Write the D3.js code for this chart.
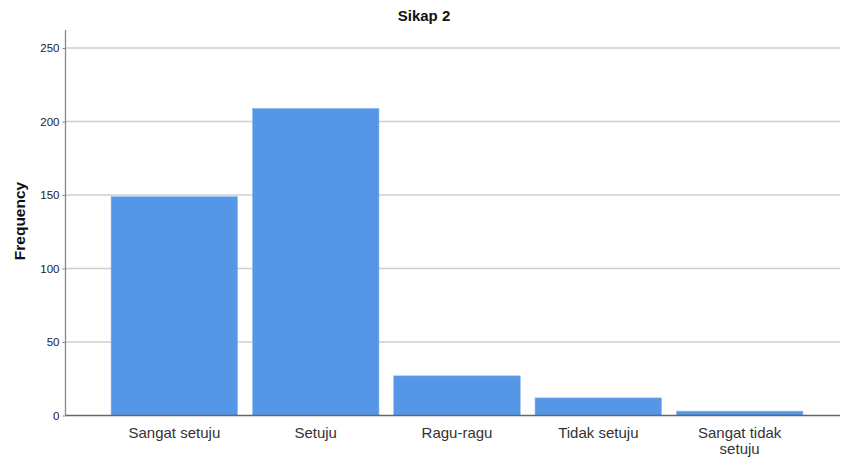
<!DOCTYPE html>
<html><head><meta charset="utf-8">
<script src="https://cdn.jsdelivr.net/npm/d3@7"></script>
<style>body{margin:0;background:#fff}svg{display:block}</style>
</head><body>
<svg id="c" width="841" height="462"></svg>
<script>
const categories = ["Sangat setuju", "Setuju", "Ragu-ragu", "Tidak setuju", "Sangat tidak setuju"];
const labelLines = [["Sangat setuju"], ["Setuju"], ["Ragu-ragu"], ["Tidak setuju"], ["Sangat tidak", "setuju"]];
const frequencies = [149, 209, 27, 12, 3];
const yTicks = [0, 50, 100, 150, 200, 250];

const svg = d3.select("#c");
const x0 = 65.5, x1 = 840, yTop = 30, yBase = 415.5;
const y = d3.scaleLinear().domain([0, 250]).range([yBase, 48]);
const x = d3.scaleBand().domain(categories).range([103.7, 810.3]).paddingInner(0.104).paddingOuter(0.052);

// gridlines
svg.append("g").selectAll("line").data(yTicks.filter(d => d > 0)).join("line")
  .attr("x1", x0).attr("x2", x1).attr("y1", d => y(d)).attr("y2", d => y(d))
  .attr("stroke", "#cfcfcf").attr("stroke-width", 1.3);

// bars
svg.append("g").selectAll("rect").data(frequencies).join("rect")
  .attr("x", (d, i) => x(categories[i]))
  .attr("y", d => y(d))
  .attr("width", x.bandwidth())
  .attr("height", d => yBase - y(d))
  .attr("fill", "#5596e6").attr("stroke", "#9cc2f0").attr("stroke-width", 0.6);

// y axis
const yAxis = d3.axisLeft(y).tickValues(yTicks).tickSize(3).tickPadding(3);
const ga = svg.append("g").attr("transform", `translate(${x0},0)`).call(yAxis);
ga.select(".domain").attr("d", `M0,${yTop}V${yBase}`).attr("stroke", "#888").attr("stroke-width", 1.3);
ga.selectAll(".tick line").attr("stroke", "#888");
ga.selectAll(".tick text").attr("font-family", "Arial, 'Liberation Sans', sans-serif").attr("font-size", 11.5).attr("fill", "#222");

// baseline
svg.append("line").attr("x1", x0).attr("x2", x1).attr("y1", yBase).attr("y2", yBase)
  .attr("stroke", "#666").attr("stroke-width", 1.3);

// x labels
const xl = svg.append("g").selectAll("text").data(categories).join("text")
  .attr("text-anchor", "middle")
  .attr("font-family", "Arial, 'Liberation Sans', sans-serif").attr("font-size", 15).attr("fill", "#333")
  .attr("transform", d => `translate(${x(d) + x.bandwidth() / 2},438)`);
xl.each(function(d, i) {
  d3.select(this).selectAll("tspan").data(labelLines[i]).join("tspan")
    .attr("x", 0).attr("dy", (t, j) => j === 0 ? 0 : 15.5).text(t => t);
});

// title
svg.append("text").attr("x", 424).attr("y", 21).attr("text-anchor", "middle")
  .attr("font-family", "Arial, 'Liberation Sans', sans-serif").attr("font-size", 15).attr("font-weight", "bold").attr("fill", "#111")
  .text("Sikap 2");

// y label
svg.append("text").attr("transform", "translate(25,221) rotate(-90)").attr("text-anchor", "middle")
  .attr("font-family", "Arial, 'Liberation Sans', sans-serif").attr("font-size", 15.5).attr("font-weight", "bold").attr("fill", "#111")
  .text("Frequency");
</script>
</body></html>
